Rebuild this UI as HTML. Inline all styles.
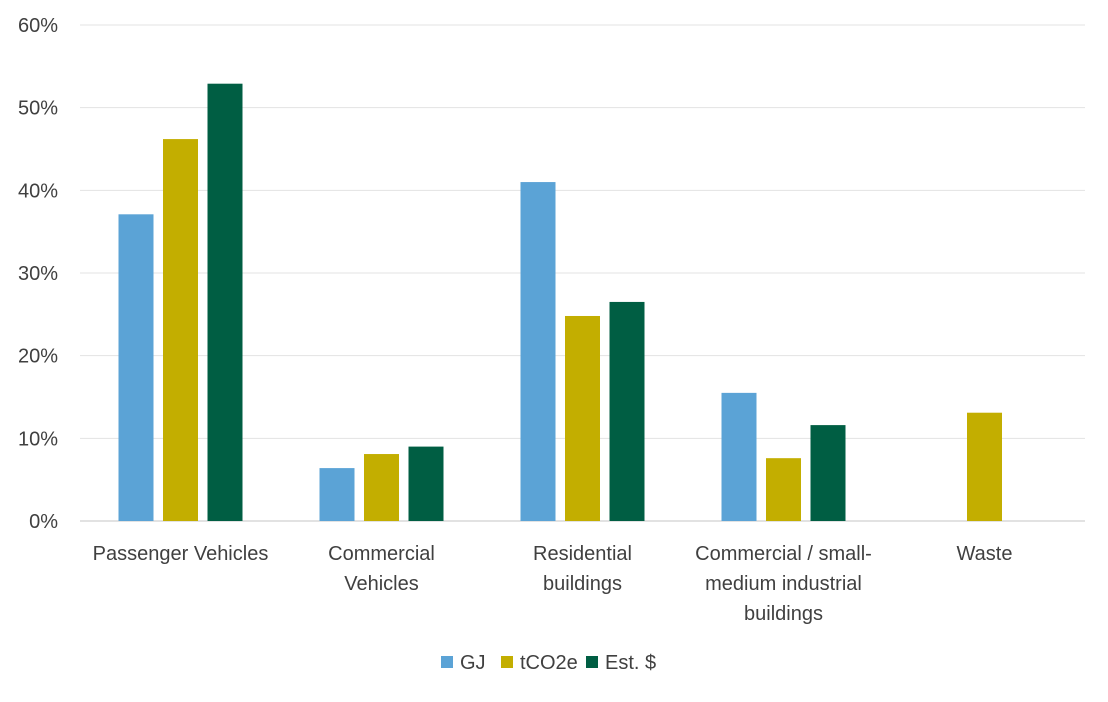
<!DOCTYPE html>
<html><head><meta charset="utf-8"><style>
body{margin:0;background:#fff;font-family:"Liberation Sans",sans-serif;}
svg text{font-family:"Liberation Sans",sans-serif;fill:#404040;}
</style></head><body>
<svg id="chart" width="1108" height="697"></svg>
<script>
const categories=[["Passenger Vehicles"],["Commercial","Vehicles"],["Residential","buildings"],["Commercial / small-","medium industrial","buildings"],["Waste"]];
const seriesNames=["GJ","tCO2e","Est. $"];
const gj=[37.1,6.4,41.0,15.5,0];
const tco2e=[46.2,8.1,24.8,7.6,13.1];
const est=[52.9,9.0,26.5,11.6,0];
const ticks=[0,10,20,30,40,50,60];
const colors=["#5BA3D6","#C3AE00","#005E43"];
const svg=document.getElementById('chart');
const NS="http://www.w3.org/2000/svg";
const x0=80,x1=1085,yBase=521,yTop=25,maxV=60;
const y=v=>yBase-(yBase-yTop)*v/maxV;
const bw=(x1-x0)/categories.length;
const cx=i=>x0+bw*(i+0.5);
function mk(t,a){const e=document.createElementNS(NS,t);for(const k in a)e.setAttribute(k,a[k]);svg.appendChild(e);return e;}
ticks.forEach(t=>{
 const l=mk('line',{x1:x0,x2:x1,y1:y(t),y2:y(t),stroke:t===0?'#D9D9D9':'#E3E3E3','stroke-width':t===0?1.5:1});
 
 
 const tx=mk('text',{x:58,y:y(t)+7,'text-anchor':'end','font-size':20});
 tx.textContent=t+'%';
 
 
});
const series=[gj,tco2e,est];
const barW=35,step=44.5;
series.forEach((s,si)=>{
 s.forEach((v,i)=>{
  if(v<=0)return;
  const r=mk('rect',{x:cx(i)+(si-1)*step-barW/2,y:y(v),width:barW,height:yBase-y(v),fill:colors[si]});
  
  
 });
});
categories.forEach((c,i)=>{
 c.forEach((line,j)=>{
  const t=mk('text',{x:cx(i),y:560+j*30,'text-anchor':'middle','font-size':20});
  t.textContent=line;
  
  
 });
});
const legX=[441,501,586];
seriesNames.forEach((n,i)=>{
 const r=mk('rect',{x:legX[i],y:656,width:12,height:12,fill:colors[i]});
 
 
 const t=mk('text',{x:legX[i]+19,y:669,'font-size':20});
 t.textContent=n;
 
 
});
</script>
</body></html>
